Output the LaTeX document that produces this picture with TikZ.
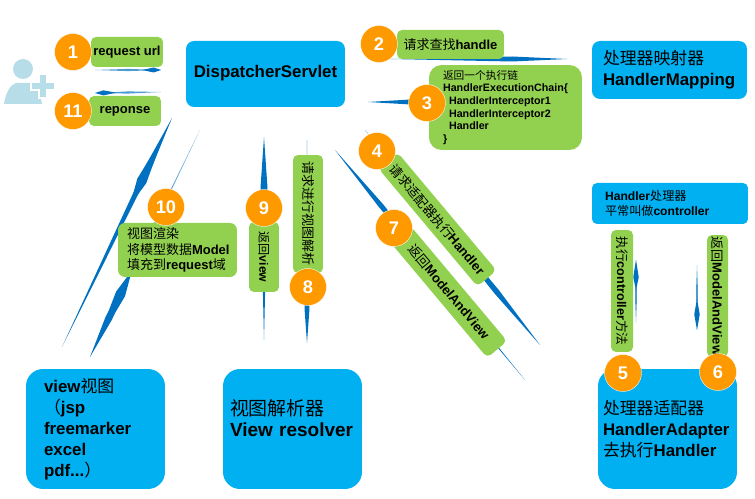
\documentclass[tikz,border=0pt]{standalone}
\usepackage{fontspec}
\setmainfont{Liberation Sans}
\newfontfamily\cjk{Noto Sans CJK SC}
\definecolor{mvcblue}{RGB}{0,176,240}
\definecolor{mvcgreen}{RGB}{146,208,80}
\definecolor{mvcorange}{RGB}{255,153,0}
\definecolor{mvcline}{RGB}{0,112,192}
\definecolor{mvcuser}{RGB}{183,222,232}
\usetikzlibrary{calc}
\newcommand{\cn}[1]{{\cjk\mdseries #1}}
% tapered connector: from, to, where it is widest, half width
\newcommand{\needle}[5][mvcline]{\fill[#1] (#2) -- ($(#2)!#4!(#3)!#5!90:(#3)$) -- (#3) -- ($(#2)!#4!(#3)!#5!-90:(#3)$) -- cycle;}

\begin{document}
\begin{tikzpicture}[x=0.02cm, y=-0.02cm,
  bluebox/.style={rectangle, fill=mvcblue, inner xsep=0pt, inner ysep=0pt, align=left,
                  font=\fontsize{9.6}{11.9}\selectfont\bfseries},
  lblbox/.style={rectangle, rounded corners=0.1cm, fill=mvcgreen, inner sep=0pt, align=center,
                 font=\fontsize{7.4}{9}\selectfont\bfseries},
  numdot/.style={circle, fill=mvcorange, draw=white, line width=0.2pt, minimum size=0.74cm, inner sep=0pt,
                 text=white, font=\fontsize{10.4}{12}\selectfont\bfseries}
]
\useasboundingbox (0,0) rectangle (755,499);

% User icon
\fill[mvcuser] (23,69) circle (0.2cm);
\fill[mvcuser] (4,104) .. controls (6,92) and (10,85) .. (16,83) -- (31,83) .. controls (37,85) and (40,93) .. (42,104) -- cycle;
\draw[white, line width=5.8pt] (43,73) -- (43,99) (30,86) -- (56,86);
\draw[mvcuser, line width=3.2pt] (43,75) -- (43,97) (32,86) -- (54,86);

% Free ends of the connectors
\coordinate (a1) at (95,70);      \coordinate (b1) at (161,70);
\coordinate (a11) at (161,92);    \coordinate (b11) at (95,93);
\coordinate (a2) at (390,59);     \coordinate (b2) at (567,59);
\coordinate (a3) at (425,102);    \coordinate (b3) at (368,102);
\coordinate (a4) at (365,130);    \coordinate (b4) at (540,345);
\coordinate (a5) at (636,323);    \coordinate (b5) at (636,260);
\coordinate (a6) at (697,265);    \coordinate (b6) at (697,330);
\coordinate (a7) at (525,380);    \coordinate (b7) at (335,150);
\coordinate (a8) at (307,140);    \coordinate (b8) at (307,343);
\coordinate (a9) at (264,340);    \coordinate (b9) at (264,137);
\coordinate (a10) at (62,347);    \coordinate (b10) at (172,118);
\coordinate (c10) at (200,130);   \coordinate (d10) at (90,357);

% Connectors
\needle[mvcline!70]{a1}{b1}{.5}{0.022cm}
\needle{$(a1)!.72!(b1)$}{b1}{.6}{0.05cm}
\needle[mvcline!70]{a11}{b11}{.5}{0.022cm}
\needle{$(a11)!.68!(b11)$}{b11}{.6}{0.05cm}
\needle{a2}{b2}{.69}{0.05cm}
\needle{a3}{b3}{.25}{0.05cm}
\needle{a4}{b4}{.75}{0.055cm}
\needle[mvcline!70]{a5}{b5}{.4}{0.02cm}
\needle{$(a5)!.52!(b5)$}{b5}{.43}{0.055cm}
\needle[mvcline!70]{a6}{b6}{.4}{0.02cm}
\needle{$(a6)!.52!(b6)$}{b6}{.5}{0.055cm}
\needle{a7}{b7}{.76}{0.05cm}
\needle{a8}{b8}{.83}{0.05cm}
\needle{a9}{b9}{.75}{0.07cm}
\needle{a10}{b10}{.8}{0.06cm}
\needle{$(a10)!.62!(b10)$}{$(a10)!.92!(b10)$}{.35}{0.1cm}
\needle[mvcline!60]{c10}{d10}{.5}{0.02cm}
\needle{$(c10)!.55!(d10)$}{d10}{.62}{0.07cm}
\needle{$(c10)!.62!(d10)$}{$(c10)!.96!(d10)$}{.3}{0.1cm}

% Blue boxes
\node[bluebox, rounded corners=0.16cm, minimum width=3.18cm, minimum height=1.32cm, align=center, font=\fontsize{9.6}{11.9}\selectfont\bfseries] (dsp) at (265.5,74) {\raisebox{2.4pt}{DispatcherServlet}};
\node[bluebox, rounded corners=0.16cm, minimum width=3.1cm, minimum height=1.16cm, inner xsep=0.22cm, text width=2.66cm] (hmap) at (669.5,70) {\cn{处理器映射器}\\HandlerMapping};
\node[bluebox, rounded corners=0.1cm, minimum width=3.12cm, minimum height=0.82cm, inner xsep=0.26cm, text width=2.6cm, font=\fontsize{6.9}{8.5}\selectfont\bfseries] (hdl) at (670,203.5) {Handler\cn{处理器}\\\cn{平常叫做}controller};
\node[bluebox, rounded corners=0.34cm, minimum width=2.78cm, minimum height=2.4cm, inner xsep=0.1cm, text width=2.58cm] (hadp) at (667.5,429) {\cn{处理器适配器}\\HandlerAdapter\\\cn{去执行}Handler};
\node[bluebox, rounded corners=0.34cm, minimum width=2.78cm, minimum height=2.4cm, inner xsep=0.36cm, text width=2.06cm] (vw) at (95.5,429) {view\cn{视图}\\\cn{（}jsp\\freemarker\\excel\\pdf...\cn{）}};
\node[bluebox, rounded corners=0.34cm, minimum width=2.78cm, minimum height=2.4cm, inner xsep=0.14cm, text width=2.5cm, font=\fontsize{10.8}{12.4}\selectfont\bfseries] (vres) at (292.5,429) {\cn{视图解析器}\\View resolver\\~};

% Green labels
\node[lblbox, minimum width=1.44cm, minimum height=0.6cm] (l1) at (127,52) {request url};
\node[lblbox, minimum width=1.44cm, minimum height=0.6cm] (l11) at (125,111) {reponse};
\node[lblbox, minimum width=2.14cm, minimum height=0.58cm] (l2) at (450.5,44.5) {\cn{请求查找}handle};
\node[lblbox, rounded corners=0.25cm, minimum width=3.06cm, minimum height=1.7cm, inner xsep=0.28cm, text width=2.5cm, align=left, font=\fontsize{6.1}{7.2}\selectfont\bfseries] (l3) at (505.5,107.5) {\cn{返回一个执行链}\\HandlerExecutionChain\{\\\hspace*{0.12cm}HandlerInterceptor1\\\hspace*{0.12cm}HandlerInterceptor2\\\hspace*{0.12cm}Handler\\\}};
\node[lblbox, rotate=-50, minimum width=3.08cm, minimum height=0.5cm] (l4) at (437.5,219.5) {\cn{请求适配器执行}Handler};
\node[lblbox, rotate=-90, minimum width=2.44cm, minimum height=0.44cm, font=\fontsize{7.2}{9}\selectfont\bfseries] (l5) at (622,291) {\cn{执行}controller\cn{方法}};
\node[lblbox, rotate=-90, minimum width=2.44cm, minimum height=0.42cm] (l6) at (717.5,296) {\cn{返回}ModelAndView};
\node[lblbox, rotate=-50, minimum width=3cm, minimum height=0.52cm] (l7) at (449,292) {\cn{返回}ModelAndView};
\node[lblbox, rotate=-90, minimum width=2.36cm, minimum height=0.6cm] (l8) at (308,214) {\cn{请求进行视图解析}};
\node[lblbox, rotate=-90, minimum width=1.4cm, minimum height=0.6cm, font=\fontsize{6.9}{9}\selectfont\bfseries] (l9) at (264,257) {\cn{返回}view};
\node[lblbox, rounded corners=0.14cm, minimum width=2.38cm, minimum height=1.08cm, inner xsep=0.18cm, text width=2.02cm, align=left] (l10) at (177.5,250) {\cn{视图渲染}\\\cn{将模型数据}Model\\\cn{填充到}request\cn{域}};

% Step numbers
\node[numdot] (n1) at (73,52) {1};
\node[numdot] (n2) at (379,44) {2};
\node[numdot] (n3) at (427,103) {3};
\node[numdot] (n4) at (377,151) {4};
\node[numdot] (n5) at (623,373) {5};
\node[numdot] (n6) at (718,372) {6};
\node[numdot] (n7) at (394,228) {7};
\node[numdot] (n8) at (308,287) {8};
\node[numdot] (n9) at (264,208) {9};
\node[numdot] (n10) at (166,207) {10};
\node[numdot] (n11) at (73,111) {11};
\end{tikzpicture}
\end{document}
